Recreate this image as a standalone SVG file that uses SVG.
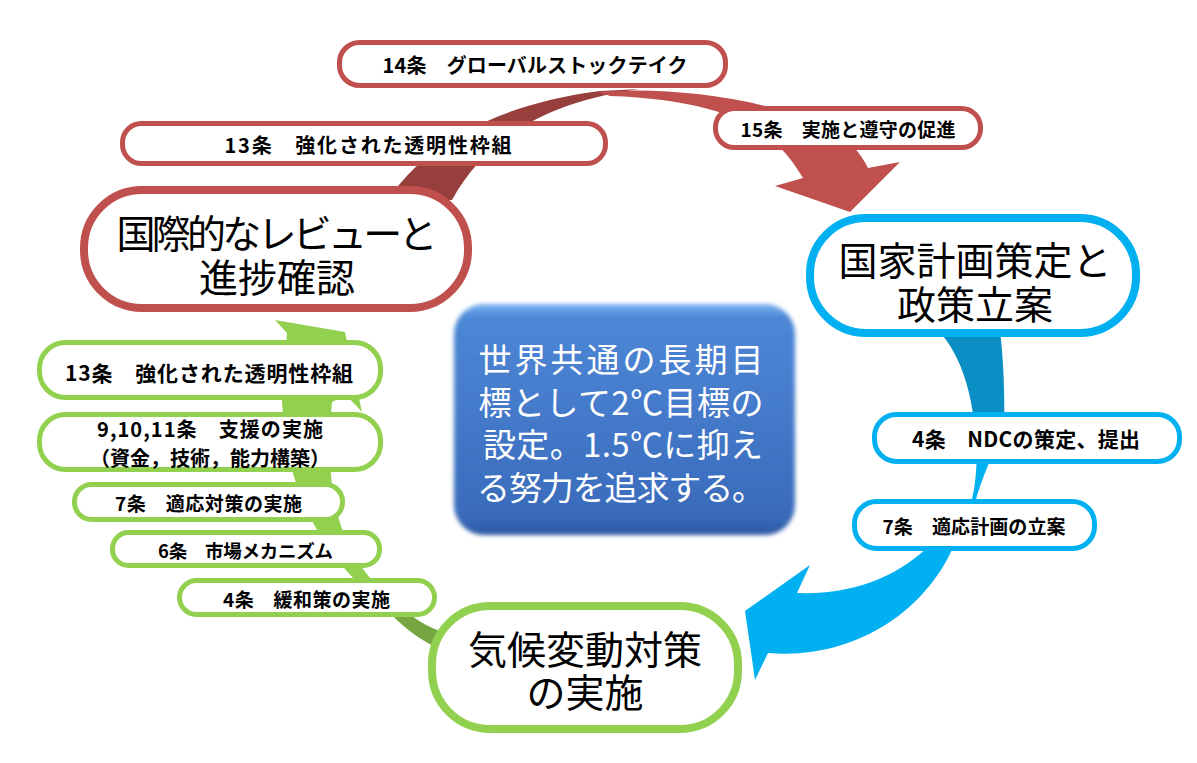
<svg xmlns="http://www.w3.org/2000/svg" width="1197" height="763" viewBox="0 0 1197 763">
<defs>
<style>
.rs{fill:#fff;stroke:#c0504d;stroke-width:5}
.rb{fill:#fff;stroke:#c0504d;stroke-width:8}
.bs{fill:#fff;stroke:#00b0f0;stroke-width:5}
.bb{fill:#fff;stroke:#00b0f0;stroke-width:8}
.gs{fill:#fff;stroke:#92d050;stroke-width:5}
.gb{fill:#fff;stroke:#92d050;stroke-width:8}
.lbl{font-family:"Noto Sans CJK JP","Noto Sans CJK SC",sans-serif;font-weight:bold;fill:#000;text-anchor:middle;dominant-baseline:central}
.big{font-family:"Noto Sans CJK JP","Noto Sans CJK SC",sans-serif;font-size:39px;fill:#000;text-anchor:middle;dominant-baseline:central}
.ctr{font-family:"Noto Sans CJK JP","Noto Sans CJK SC",sans-serif;font-size:33px;fill:#fff;text-anchor:middle;dominant-baseline:central}
</style>
<linearGradient id="goalGrad" x1="0" y1="0" x2="0" y2="1">
<stop offset="0" stop-color="#7db4f2"/>
<stop offset="0.06" stop-color="#4c87d6"/>
<stop offset="0.5" stop-color="#4479c9"/>
<stop offset="0.92" stop-color="#3a6bbb"/>
<stop offset="1" stop-color="#2b58a0"/>
</linearGradient>
<filter id="soft" x="-5%" y="-5%" width="110%" height="110%">
<feGaussianBlur stdDeviation="2"/>
</filter>
</defs>

<g id="connectors">
<!-- red: review -> planning -->
<path d="M 388 200 C 420 150 490 105 600 91 L 640 89 C 560 100 490 130 452 200 Z" fill="#963f3d"/>
<path d="M 598 92 C 670 86 765 98 830 128 C 848 138 860 152 868 168 L 900 162 L 850 212 L 775 186 L 803 178 C 795 165 788 155 780 148 C 760 122 705 99 610 96 Z" fill="#c0504d"/>
<!-- blue: planning -> implementation -->
<path d="M 938 330 C 958 352 972 385 976 440 L 1004 440 C 1005 400 1004 365 1000 330 Z" fill="#0a8ec4"/>
<path d="M 976 430 C 978 460 976 485 971 503 L 975 503 C 981 480 992 455 1004 430 Z" fill="#00b0f0"/>
<path d="M 932 543 C 902 573 860 595 797 593 L 810 565 L 745 611 L 755 680 L 768 653 C 850 660 925 615 955 543 Z" fill="#00b0f0"/>
<!-- green: implementation -> review -->
<path d="M 376 598 L 394 598 C 405 612 420 624 442 632 L 442 650 C 418 640 396 622 376 598 Z" fill="#77a541"/>
<path d="M 275 320 L 345 332 L 362 412 L 346 395 L 332 402 C 326 480 330 550 395 602 L 378 602 C 330 560 285 500 282 400 L 287 333 Z" fill="#92d050"/>
</g>

<g id="node-review">
<rect class="rb" x="84" y="190" width="384" height="118" rx="58"/>
<text class="big" x="277" y="231" textLength="321" lengthAdjust="spacing">国際的なレビューと</text>
<text class="big" x="277" y="275">進捗確認</text>
</g>

<g id="node-plan">
<rect class="bb" x="810" y="218" width="326" height="115" rx="56"/>
<text class="big" x="975" y="258">国家計画策定と</text>
<text class="big" x="975" y="302">政策立案</text>
</g>

<g id="node-implement">
<rect class="gb" x="432" y="606" width="306" height="123" rx="58"/>
<text class="big" x="585" y="647">気候変動対策</text>
<text class="big" x="585" y="690">の実施</text>
</g>

<g id="node-goal">
<rect x="454" y="304" width="341" height="231" rx="30" fill="url(#goalGrad)" filter="url(#soft)"/>
<text class="ctr" x="621" y="358" textLength="285" lengthAdjust="spacing">世界共通の長期目</text>
<text class="ctr" x="621" y="401" textLength="285" lengthAdjust="spacing">標として2℃目標の</text>
<text class="ctr" x="623" y="443" textLength="280" lengthAdjust="spacing">設定。1.5℃に抑え</text>
<text class="ctr" x="621" y="486" textLength="288" lengthAdjust="spacing">る努力を追求する。</text>
</g>

<g id="label-art14">
<rect class="rs" x="339.5" y="42.5" width="386" height="43" rx="20"/>
<text class="lbl" x="535" y="64" font-size="20" textLength="305" lengthAdjust="spacing">14条　グローバルストックテイク</text>
</g>

<g id="label-art13-review">
<rect class="rs" x="122.5" y="123.5" width="483" height="40" rx="19"/>
<text class="lbl" x="368" y="144" font-size="20" textLength="287" lengthAdjust="spacing">13条　強化された透明性枠組</text>
</g>

<g id="label-art15">
<rect class="rs" x="715.5" y="108.5" width="265" height="39" rx="19"/>
<text class="lbl" x="848" y="128" font-size="19" textLength="215" lengthAdjust="spacing">15条　実施と遵守の促進</text>
</g>

<g id="label-art4-ndc">
<rect class="bs" x="874.5" y="414.5" width="305" height="47" rx="22"/>
<text class="lbl" x="1026" y="438" font-size="21" textLength="228" lengthAdjust="spacing">4条　NDCの策定、提出</text>
</g>

<g id="label-art7-plan">
<rect class="bs" x="854.5" y="501.5" width="240" height="47" rx="22"/>
<text class="lbl" x="974" y="525" font-size="19" textLength="183" lengthAdjust="spacing">7条　適応計画の立案</text>
</g>

<g id="label-art13-impl">
<rect class="gs" x="39.5" y="342.5" width="341" height="55" rx="26"/>
<text class="lbl" x="209" y="372" font-size="21" textLength="288" lengthAdjust="spacing">13条　強化された透明性枠組</text>
</g>

<g id="label-art9-11">
<rect class="gs" x="39.5" y="414.5" width="341" height="55" rx="26"/>
<text class="lbl" x="210" y="428" font-size="20" textLength="226" lengthAdjust="spacing">9,10,11条　支援の実施</text>
<text class="lbl" x="210" y="457" font-size="20" textLength="240" lengthAdjust="spacing">（資金，技術，能力構築）</text>
</g>

<g id="label-art7-adapt">
<rect class="gs" x="74.5" y="484.5" width="268" height="35" rx="17"/>
<text class="lbl" x="208.5" y="502" font-size="19" textLength="187" lengthAdjust="spacing">7条　適応対策の実施</text>
</g>

<g id="label-art6">
<rect class="gs" x="112.5" y="532.5" width="267" height="33" rx="16"/>
<text class="lbl" x="245.5" y="550" font-size="18.5" textLength="175" lengthAdjust="spacing">6条　市場メカニズム</text>
</g>

<g id="label-art4-mitig">
<rect class="gs" x="179.5" y="580.5" width="255" height="34" rx="17"/>
<text class="lbl" x="306.5" y="598" font-size="19" textLength="167" lengthAdjust="spacing">4条　緩和策の実施</text>
</g>
</svg>
